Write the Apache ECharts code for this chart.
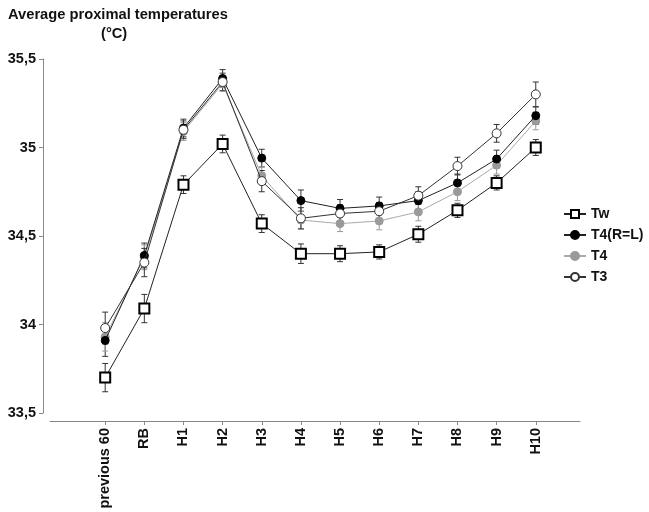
<!DOCTYPE html>
<html>
<head>
<meta charset="utf-8">
<script src="https://cdn.jsdelivr.net/npm/echarts@6/dist/echarts.min.js"></script>
<style>html,body{margin:0;padding:0;background:#fff;}#c{width:649px;height:512px;}</style>
</head>
<body>
<div id="c"></div>
<script>
const categories = ['previous 60','RB','H1','H2','H3','H4','H5','H6','H7','H8','H9','H10'];
const yTicks = [33.5, 34, 34.5, 35, 35.5];
const tw      = [33.70,34.09,34.79,35.02,34.57,34.40,34.40,34.41,34.51,34.645,34.80,35.00];
const twErr   = [0.08,0.08,0.05,0.05,0.05,0.055,0.045,0.04,0.045,0.04,0.04,0.045];
const t4rl    = [33.91,34.39,35.11,35.39,34.94,34.70,34.656,34.67,34.70,34.80,34.935,35.18];
const t4rlErr = [0.09,0.07,0.05,0.05,0.05,0.06,0.05,0.05,0.05,0.05,0.05,0.05];
const t4      = [33.93,34.38,35.09,35.36,34.84,34.59,34.57,34.585,34.636,34.75,34.90,35.15];
const t4Err   = [0.08,0.07,0.05,0.04,0.05,0.05,0.045,0.05,0.05,0.05,0.05,0.05];
const t3      = [33.98,34.35,35.10,35.37,34.81,34.60,34.627,34.64,34.728,34.895,35.08,35.30];
const t3Err   = [0.09,0.08,0.05,0.05,0.06,0.06,0.05,0.05,0.05,0.05,0.05,0.07];

const FONT = 'Liberation Sans, Arial, sans-serif';
const chart = echarts.init(document.getElementById('c'));

function pts(vals){ return vals.map((v,i)=>[i,v]); }
function errData(vals, errs){ return vals.map((v,i)=>[i, v-errs[i], v+errs[i]]); }
function errSeries(vals, errs, color){
  return {
    type:'custom', silent:true, z:1,
    data: errData(vals, errs),
    renderItem: function(params, api){
      const x = api.value(0);
      const lo = api.coord([x, api.value(1)]);
      const hi = api.coord([x, api.value(2)]);
      const w = 3;
      return {type:'group', children:[
        {type:'line', shape:{x1:lo[0],y1:lo[1],x2:hi[0],y2:hi[1]}, style:{stroke:color,lineWidth:1}},
        {type:'line', shape:{x1:lo[0]-w,y1:lo[1],x2:lo[0]+w,y2:lo[1]}, style:{stroke:color,lineWidth:1}},
        {type:'line', shape:{x1:hi[0]-w,y1:hi[1],x2:hi[0]+w,y2:hi[1]}, style:{stroke:color,lineWidth:1}}
      ]};
    }
  };
}

const option = {
  animation:false,
  backgroundColor:'#fff',
  graphic:[
    {type:'text', left:8, top:7, style:{text:'Average proximal temperatures', font:'bold 14.7px '+FONT, fill:'#111'}},
    {type:'text', left:101, top:26, style:{text:'(°C)', font:'bold 14.7px '+FONT, fill:'#111'}}
  ],
  legend:{
    orient:'vertical', left:558, top:202, itemGap:7, itemWidth:22, itemHeight:10,
    textStyle:{fontFamily:FONT, fontWeight:'bold', fontSize:14, color:'#111', lineHeight:14},
    data:['Tw','T4(R=L)','T4','T3']
  },
  grid:{left:50, right:69, top:59, bottom:99, containLabel:false},
  xAxis:{
    type:'value', min:-1.41, max:12.13, offset:8,
    splitLine:{show:false},
    axisLine:{show:true, onZero:false, lineStyle:{color:'#888', width:1}},
    axisTick:{show:true, length:4, lineStyle:{color:'#888'}, customValues:categories.map((c,i)=>i)},
    axisLabel:{customValues:categories.map((c,i)=>i), rotate:90, margin:7,
      fontFamily:FONT, fontWeight:'bold', fontSize:14.5, color:'#111',
      formatter:function(v){ return categories[Math.round(v)] || ''; }}
  },
  yAxis:{
    type:'value', min:33.5, max:35.5, interval:0.5, offset:7,
    splitLine:{show:false},
    axisLine:{show:true, onZero:false, lineStyle:{color:'#888', width:1}},
    axisTick:{show:true, length:4, lineStyle:{color:'#888'}},
    axisLabel:{margin:7, fontFamily:FONT, fontWeight:'bold', fontSize:14.5, color:'#111',
      formatter:function(v){ return String(v).replace('.', ','); }}
  },
  series:[
    errSeries(tw, twErr, '#333'),
    errSeries(t4rl, t4rlErr, '#333'),
    errSeries(t4, t4Err, '#999'),
    errSeries(t3, t3Err, '#333'),
    {name:'T4', type:'line', data:pts(t4), z:3, symbol:'circle', symbolSize:8,
      lineStyle:{color:'#aaa', width:1}, itemStyle:{color:'#9a9a9a', borderColor:'#9a9a9a', borderWidth:1}},
    {name:'T4(R=L)', type:'line', data:pts(t4rl), z:4, symbol:'circle', symbolSize:8,
      lineStyle:{color:'#222', width:1}, itemStyle:{color:'#000', borderColor:'#000', borderWidth:1}},
    {name:'T3', type:'line', data:pts(t3), z:5, symbol:'circle', symbolSize:9,
      lineStyle:{color:'#333', width:1}, itemStyle:{color:'#fff', borderColor:'#333', borderWidth:1}},
    {name:'Tw', type:'line', data:pts(tw), z:6, symbol:'rect', symbolSize:10,
      lineStyle:{color:'#222', width:1}, itemStyle:{color:'#fff', borderColor:'#000', borderWidth:2}}
  ]
};
chart.setOption(option);
</script>
</body>
</html>
